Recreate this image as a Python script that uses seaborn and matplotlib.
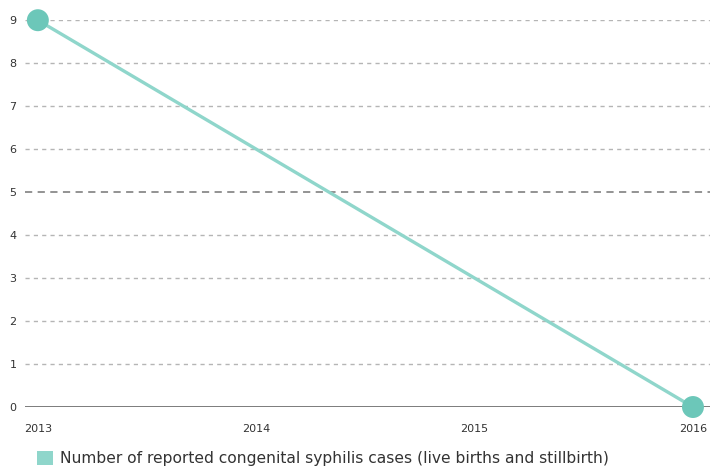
import matplotlib
matplotlib.use("Agg")
import matplotlib.pyplot as plt
from matplotlib.patches import Patch
import pandas as pd
import seaborn as sns

# DATA
years = [2013, 2016]
cases = [9, 0]
year_ticks = [2013, 2014, 2015, 2016]
series_label = "Number of reported congenital syphilis cases (live births and stillbirth)"

df = pd.DataFrame({"year": years, "cases": cases})

sns.set_style("white")
plt.rcParams["font.family"] = ["DejaVu Sans"]

fig = plt.figure(figsize=(7.1, 4.7), dpi=100)
ax = fig.add_axes([0.035, 0.134, 0.965, 0.823])

line_color = "#8fd6cb"
marker_color = "#6cc7b9"

# gridlines
for v in range(1, 10):
    if v == 5:
        ax.axhline(v, color="#8a8a8a", lw=1.3, ls=(0, (4, 3)), zorder=1)
    else:
        ax.axhline(v, color="#b5b5b5", lw=1.0, ls=(0, (3, 3)), zorder=1)
ax.axhline(0, color="#666666", lw=1.2, zorder=1)

sns.lineplot(data=df, x="year", y="cases", color=line_color, lw=2.4, ax=ax, zorder=3)
sns.scatterplot(data=df, x="year", y="cases", color=marker_color, s=250,
                edgecolor="none", ax=ax, zorder=4, clip_on=False)
for c in ax.collections:
    c.set_clip_on(False)

ax.set_xlim(2012.9405, 2016.078)
ax.set_ylim(0, 9)
ax.set_xticks(year_ticks)
ax.set_xticklabels([str(y) for y in year_ticks])
ax.set_yticks(range(0, 10))
ax.tick_params(axis="both", length=0, labelsize=8, colors="#333333")
ax.tick_params(axis="x", pad=12)
ax.tick_params(axis="y", pad=6)
ax.set_xlabel("")
ax.set_ylabel("")
for s in ax.spines.values():
    s.set_visible(False)

handle = Patch(facecolor=line_color, edgecolor="none")
fig.legend([handle], [series_label], loc="lower left", bbox_to_anchor=(0.033, -0.022),
           frameon=False, fontsize=11.2, handlelength=1.0, handleheight=1.0,
           handletextpad=0.45, labelcolor="#333333")

fig.savefig("out.png", dpi=100)
